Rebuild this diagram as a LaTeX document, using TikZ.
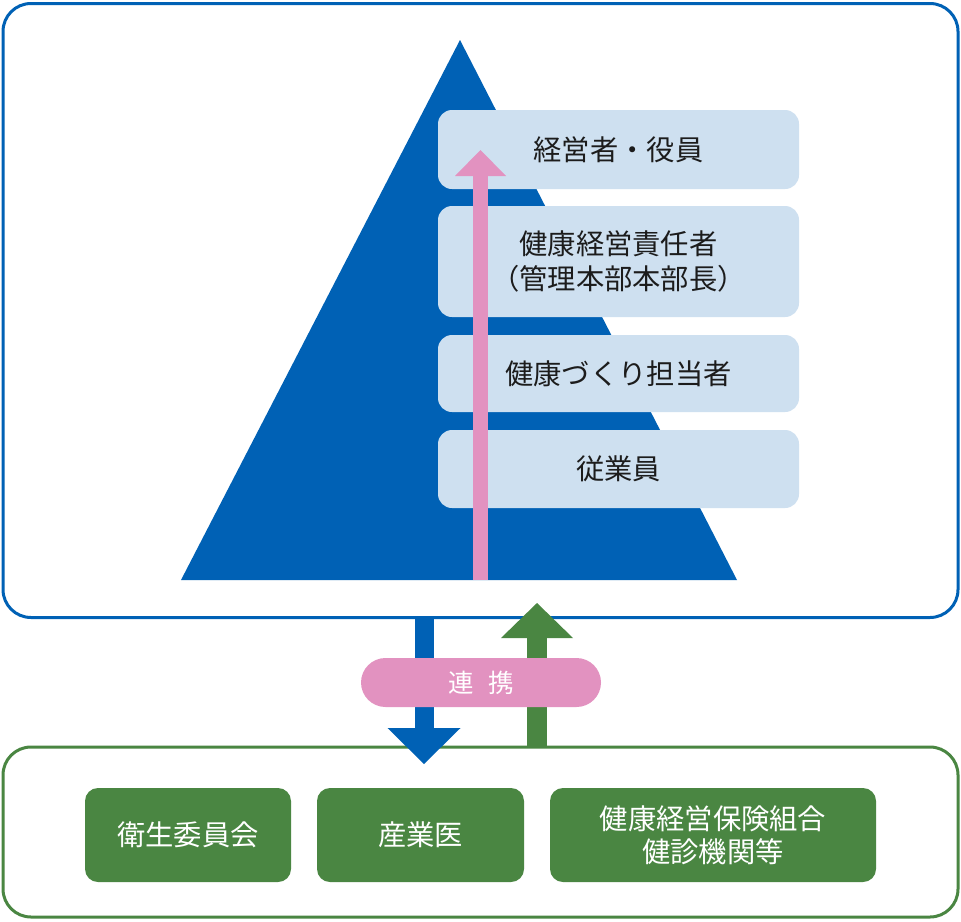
\documentclass[tikz,border=0pt]{standalone}
\usepackage{fontspec}
\setmainfont{Noto Sans CJK JP}
\usetikzlibrary{arrows.meta}
\definecolor{kblue}{HTML}{0061B5}
\definecolor{lblue}{HTML}{CEE0F0}
\definecolor{kpink}{HTML}{E292C0}
\definecolor{kgreen}{HTML}{4A8642}
\definecolor{ktext}{HTML}{1C1C1C}
\begin{document}
\begin{tikzpicture}[x=1pt,y=-1pt,
  frame/.style={draw, line width=3pt, rounded corners=28pt, fill=white, inner sep=0pt, minimum width=955pt},
  lvl/.style={fill=lblue, rounded corners=14pt, minimum width=361pt, inner sep=2pt, text=ktext, align=center, font=\fontsize{28.3}{35}\selectfont},
  grp/.style={fill=kgreen, rounded corners=13pt, minimum height=94pt, inner sep=2pt, text=white, align=center, font=\fontsize{28.3}{33}\selectfont},
  bigarrow/.style={line width=#1, line cap=butt}
]
\useasboundingbox (0,0) rectangle (961,921);
% frames
\node[frame, draw=kblue, minimum height=614pt] (topframe) at (480.5,310.5) {};
\node[frame, draw=kgreen, minimum height=170pt] (botframe) at (480.5,832) {};
% pyramid
\coordinate (apex) at (460,40);
\coordinate (baseL) at (181,580);
\coordinate (baseR) at (737,580);
\fill[kblue] (apex) -- (baseL) -- (baseR) -- cycle;
% levels
\node[lvl, minimum height=79pt] (l1) at (618.5,149.5) {経営者・役員};
\node[lvl, minimum height=111pt] (l2) at (618.5,261.5) {健康経営責任者\\（管理本部本部長）};
\node[lvl, minimum height=77pt] (l3) at (618.5,373.5) {健康づくり担当者};
\node[lvl, minimum height=78pt] (l4) at (618.5,469) {従業員};
% pink arrow
\coordinate (pstart) at (480.5,580);
\coordinate (pend) at (480.5,150);
\draw[kpink, bigarrow=15pt, -{Triangle[width=51pt,length=26pt,line width=0pt]}] (pstart) -- (pend);
% between arrows
\coordinate (bstart) at (424,618);
\coordinate (bend) at (424,764);
\draw[kblue, bigarrow=19pt, -{Triangle[width=73pt,length=36pt,line width=0pt]}] (bstart) -- (bend);
\coordinate (gstart) at (537,747);
\coordinate (gend) at (537,603);
\draw[kgreen, bigarrow=20pt, -{Triangle[width=72pt,length=35pt,line width=0pt]}] (gstart) -- (gend);
% pill
\node[fill=kpink, rounded corners=24.5pt, minimum width=240pt, minimum height=49pt, inner sep=0pt, text=white, font=\fontsize{25.5}{30}\selectfont] (renkei) at (481,682.5) {連\hspace{0.55em}携};
% groups
\node[grp, minimum width=206pt] (g1) at (188,835) {衛生委員会};
\node[grp, minimum width=207pt] (g2) at (420.5,835) {産業医};
\node[grp, minimum width=326pt] (g3) at (713,835) {健康経営保険組合\\健診機関等};
\end{tikzpicture}
\end{document}
